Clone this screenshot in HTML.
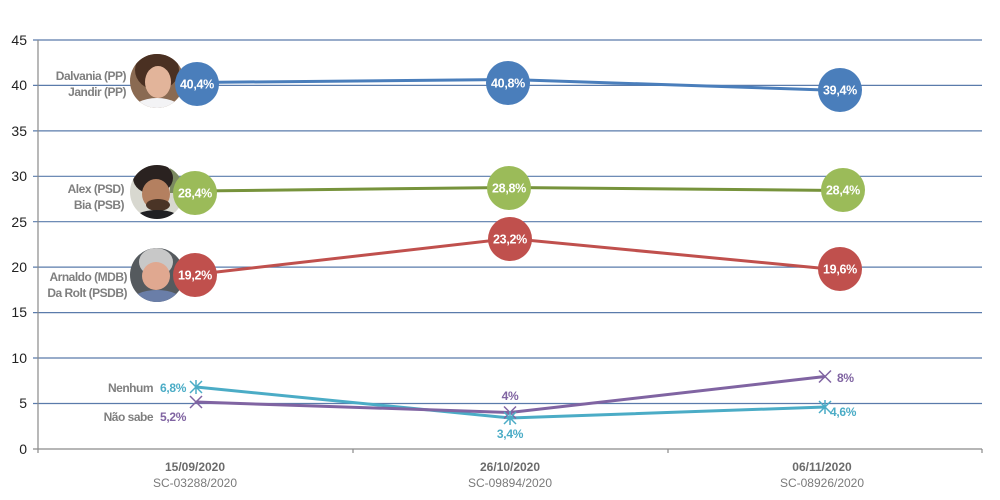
<!DOCTYPE html>
<html><head><meta charset="utf-8"><style>
html,body{margin:0;padding:0;background:#fff;}
svg{display:block;font-family:"Liberation Sans",sans-serif;}
</style></head><body>
<svg width="1000" height="500" viewBox="0 0 1000 500" xmlns="http://www.w3.org/2000/svg">
<defs>
<clipPath id="c1"><circle cx="157" cy="81" r="27"/></clipPath>
<clipPath id="c2"><circle cx="157" cy="192" r="27"/></clipPath>
<clipPath id="c3"><circle cx="157" cy="275" r="27"/></clipPath>
</defs>
<!-- gridlines -->
<g stroke="#5a7bab" stroke-width="1.2">
<line x1="33" y1="40" x2="982" y2="40"/>
<line x1="33" y1="85.4" x2="982" y2="85.4"/>
<line x1="33" y1="130.9" x2="982" y2="130.9"/>
<line x1="33" y1="176.3" x2="982" y2="176.3"/>
<line x1="33" y1="221.7" x2="982" y2="221.7"/>
<line x1="33" y1="267.1" x2="982" y2="267.1"/>
<line x1="33" y1="312.6" x2="982" y2="312.6"/>
<line x1="33" y1="358" x2="982" y2="358"/>
<line x1="33" y1="403.5" x2="982" y2="403.5"/>
</g>
<g stroke="#8a8a8a" stroke-width="1.2">
<line x1="38" y1="40" x2="38" y2="453"/>
<line x1="33" y1="449" x2="982" y2="449"/>
<line x1="353" y1="449" x2="353" y2="453"/>
<line x1="668" y1="449" x2="668" y2="453"/>
<line x1="982" y1="449" x2="982" y2="453"/>
</g>
<!-- y labels -->
<g font-size="14" fill="#222" text-anchor="end">
<text x="27" y="45">45</text>
<text x="27" y="90">40</text>
<text x="27" y="136">35</text>
<text x="27" y="181">30</text>
<text x="27" y="227">25</text>
<text x="27" y="272">20</text>
<text x="27" y="317">15</text>
<text x="27" y="363">10</text>
<text x="27" y="408">5</text>
<text x="27" y="454">0</text>
</g>
<!-- x labels -->
<g text-anchor="middle" font-size="12">
<text x="195" y="471" font-weight="bold" fill="#6b6b6b">15/09/2020</text>
<text x="195" y="487" fill="#7a7a7a">SC-03288/2020</text>
<text x="510" y="471" font-weight="bold" fill="#6b6b6b">26/10/2020</text>
<text x="510" y="487" fill="#7a7a7a">SC-09894/2020</text>
<text x="822" y="471" font-weight="bold" fill="#6b6b6b">06/11/2020</text>
<text x="822" y="487" fill="#7a7a7a">SC-08926/2020</text>
</g>
<!-- lines -->
<polyline points="195,82.5 510,79.5 840,90.5" fill="none" stroke="#4a7ebb" stroke-width="3"/>
<polyline points="195,191 510,187.5 840,190.5" fill="none" stroke="#77933c" stroke-width="3"/>
<polyline points="195,274.5 510,238.5 840,270" fill="none" stroke="#c0504d" stroke-width="3"/>
<polyline points="196,387 510,418 825,407" fill="none" stroke="#4bacc6" stroke-width="3"/>
<polyline points="196,402 510,412.5 825,376.5" fill="none" stroke="#8064a2" stroke-width="3"/>
<!-- markers -->
<g stroke="#8064a2" stroke-width="1.5">
<path d="M190,396 L202,408 M202,396 L190,408"/>
<path d="M504,406.5 L516,418.5 M516,406.5 L504,418.5"/>
<path d="M819,370.5 L831,382.5 M831,370.5 L819,382.5"/>
</g>
<g stroke="#4bacc6" stroke-width="1.5">
<path d="M190,381 L202,393 M202,381 L190,393 M196,380 L196,394"/>
<path d="M504,412 L516,424 M516,412 L504,424 M510,411 L510,425"/>
<path d="M819,401 L831,413 M831,401 L819,413 M825,400 L825,414"/>
</g>
<!-- photos -->
<g clip-path="url(#c1)">
<rect x="128" y="52" width="60" height="60" fill="#8a6a52"/>
<ellipse cx="157" cy="70" rx="22" ry="20" fill="#4a3022"/>
<ellipse cx="158" cy="82" rx="13" ry="16" fill="#e2b49a"/>
<ellipse cx="157" cy="112" rx="26" ry="14" fill="#f3f3f5"/>
</g>
<g clip-path="url(#c2)">
<rect x="128" y="163" width="60" height="60" fill="#d8d8d0"/>
<rect x="170" y="163" width="20" height="30" fill="#7b8a60"/>
<ellipse cx="153" cy="178" rx="20" ry="16" fill="#2a2220"/>
<ellipse cx="156" cy="194" rx="14" ry="15" fill="#b48060"/>
<ellipse cx="158" cy="205" rx="12" ry="6" fill="#4a3426"/>
<ellipse cx="157" cy="222" rx="26" ry="12" fill="#1f1f22"/>
</g>
<g clip-path="url(#c3)">
<rect x="128" y="246" width="60" height="60" fill="#555a5e"/>
<ellipse cx="156" cy="262" rx="17" ry="14" fill="#c8c8c8"/>
<ellipse cx="156" cy="276" rx="14" ry="14" fill="#e0a890"/>
<ellipse cx="157" cy="302" rx="26" ry="12" fill="#6a7ea8"/>
</g>
<!-- circles -->
<g>
<circle cx="197" cy="84" r="22" fill="#4a7ebb"/>
<circle cx="508" cy="83" r="22" fill="#4a7ebb"/>
<circle cx="840" cy="90" r="22" fill="#4a7ebb"/>
<circle cx="195" cy="193" r="22" fill="#9bbb59"/>
<circle cx="509" cy="188" r="22" fill="#9bbb59"/>
<circle cx="843" cy="190" r="22" fill="#9bbb59"/>
<circle cx="195" cy="275" r="22" fill="#c0504d"/>
<circle cx="510" cy="239" r="22" fill="#c0504d"/>
<circle cx="840" cy="269" r="22" fill="#c0504d"/>
</g>
<g fill="#fff" font-size="12.5" font-weight="bold" text-anchor="middle" letter-spacing="-0.3">
<text x="197" y="88.5">40,4%</text>
<text x="508" y="87.5">40,8%</text>
<text x="840" y="94.5">39,4%</text>
<text x="195" y="197.5">28,4%</text>
<text x="509" y="192.5">28,8%</text>
<text x="843" y="194.5">28,4%</text>
<text x="195" y="279.5">19,2%</text>
<text x="510" y="243.5">23,2%</text>
<text x="840" y="273.5">19,6%</text>
</g>
<!-- name labels -->
<g fill="#7f7f7f" font-size="12" font-weight="bold" text-anchor="end" letter-spacing="-0.5">
<text x="126" y="80">Dalvania (PP)</text>
<text x="126" y="96">Jandir (PP)</text>
<text x="124" y="193">Alex (PSD)</text>
<text x="124" y="209">Bia (PSB)</text>
<text x="127" y="281">Arnaldo (MDB)</text>
<text x="127" y="297">Da Rolt (PSDB)</text>
<text x="153" y="392">Nenhum</text>
<text x="153" y="421">Não sabe</text>
</g>
<g font-size="12" font-weight="bold" letter-spacing="-0.3">
<text x="160" y="392" fill="#4bacc6">6,8%</text>
<text x="160" y="421" fill="#8064a2">5,2%</text>
<text x="510" y="400" fill="#8064a2" text-anchor="middle">4%</text>
<text x="510" y="438" fill="#4bacc6" text-anchor="middle">3,4%</text>
<text x="837" y="382" fill="#8064a2">8%</text>
<text x="830" y="416" fill="#4bacc6">4,6%</text>
</g>
</svg>
</body></html>
